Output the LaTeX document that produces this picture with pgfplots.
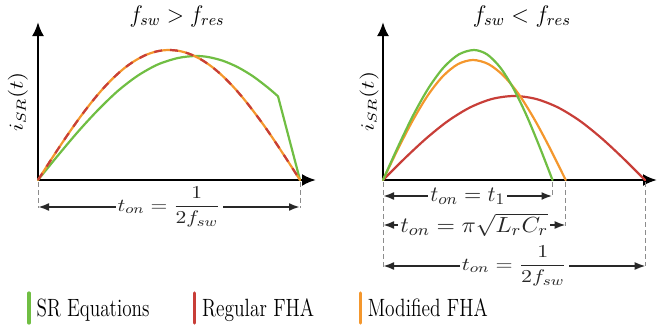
\documentclass[border=0pt]{standalone}
\usepackage{graphicx}
\usepackage{pgfplots}
\pgfplotsset{compat=1.18}
\usetikzlibrary{arrows.meta}
\definecolor{cgreen}{RGB}{112,190,67}
\definecolor{cred}{RGB}{200,62,56}
\definecolor{corange}{RGB}{244,151,45}
\definecolor{cdim}{RGB}{40,40,40}
\definecolor{cdash}{RGB}{140,140,140}
\newcommand\mfont{\fontsize{11}{13}\selectfont}
\newcommand\tifont{\fontsize{12}{14}\selectfont}
\newcommand\lfont{\fontsize{12.5}{15}\selectfont}
\pgfplotsset{
  schem/.style={x=0.5pt, y=0.5pt, axis lines=left, ticks=none,
    xmin=0, ymin=0, ymax=158, clip=false, anchor=south west,
    axis line style={line width=1.25pt},
    x axis line style={-{Latex[length=7pt,width=6pt]}},
    y axis line style={-{Latex[length=7pt,width=6pt]}},
    title style={anchor=center, yshift=-3pt, font=\tifont},
    ylabel style={anchor=center, font=\tifont},
  },
  curve/.style={line width=1.1pt, line join=round, line cap=round, forget plot},
  vdash/.style={cdash, line width=0.5pt, dash pattern=on 2.5pt off 1.5pt, forget plot},
  legend image code/.code={\draw[#1, line width=1.6pt, line cap=round] (0pt,-7pt) -- (0pt,8pt);},
}
\tikzset{dim/.style={cdim, line width=1pt, {Latex[length=5.5pt,width=4pt]}-{Latex[length=5.5pt,width=4pt]}},
  lab/.style={fill=white, inner sep=1pt, font=\mfont}}
\begin{document}
\begin{tikzpicture}
\useasboundingbox (0,0) rectangle (329pt,164pt);
% ---------------- left panel ----------------
\begin{axis}[schem, xmax=278, at={(19pt,74pt)},
  title={\resizebox{47.5pt}{\height}{$f_{sw} > f_{res}$}}, title style={at={(rel axis cs:0.5,1)}},
  ylabel={\resizebox*{30pt}{10pt}{$i_{SR}(t)$}}, ylabel style={at={(rel axis cs:-0.072,0.494)}},
  legend columns=3,
  legend style={at={(axis cs:-11,-128)}, anchor=west, draw=none, fill=none,
    inner sep=0pt, font=\lfont, /tikz/every even column/.append style={column sep=0pt}},
]
\addlegendimage{cgreen}\addlegendentry{\makebox[77.2pt][l]{\hspace{1pt}\resizebox{56.5pt}{\height}{SR Equations}}}
\addlegendimage{cred}\addlegendentry{\makebox[77.2pt][l]{\hspace{1pt}\resizebox{56pt}{\height}{Regular FHA}}}
\addlegendimage{corange}\addlegendentry{\makebox[77.2pt][l]{\hspace{1pt}\resizebox{60pt}{\height}{Modified FHA}}}
\addplot[curve, cgreen, smooth] coordinates {(0,0) (20,24.6) (40,48.3) (60,70.0) (80,89.2) (100,104.5) (120,115.6) (140,122.0) (157,124) (170,123.0) (185,119.2) (200,112.7) (215,103.7) (230,92.3) (240,83.7)};
\addplot[curve, cgreen] coordinates {(240,83.7) (262,0)};
\addplot[curve, corange, smooth] coordinates {(0,0) (10.9,17.0) (21.8,33.6) (32.8,49.8) (43.7,65.0) (54.6,79.1) (65.5,91.9) (76.4,103.1) (87.3,112.6) (98.3,120.1) (109.2,125.6) (120.1,128.9) (131,130) (141.9,128.9) (152.8,125.6) (163.8,120.1) (174.7,112.6) (185.6,103.1) (196.5,91.9) (207.4,79.1) (218.3,65.0) (229.3,49.8) (240.2,33.6) (251.1,17.0) (262,0)};
\addplot[curve, cred, smooth, line cap=butt, dash pattern=on 4pt off 4pt] coordinates {(0,0) (10.9,17.0) (21.8,33.6) (32.8,49.8) (43.7,65.0) (54.6,79.1) (65.5,91.9) (76.4,103.1) (87.3,112.6) (98.3,120.1) (109.2,125.6) (120.1,128.9) (131,130) (141.9,128.9) (152.8,125.6) (163.8,120.1) (174.7,112.6) (185.6,103.1) (196.5,91.9) (207.4,79.1) (218.3,65.0) (229.3,49.8) (240.2,33.6) (251.1,17.0) (262,0)};
\addplot[vdash] coordinates {(0,-2) (0,-28)};
\addplot[vdash] coordinates {(262,-2) (262,-28)};
\draw[dim] (axis cs:0,-27) -- node[lab] {\resizebox*{51.5pt}{20pt}{$t_{on} = \displaystyle\frac{1}{2f_{sw}}$}} (axis cs:262,-27);
\end{axis}
% ---------------- right panel ----------------
\begin{axis}[schem, xmax=274, at={(191.5pt,74pt)},
  title={\resizebox{49pt}{\height}{$f_{sw} < f_{res}$}}, title style={at={(rel axis cs:0.507,1)}},
  ylabel={\resizebox*{30pt}{9.5pt}{$i_{SR}(t)$}}, ylabel style={at={(rel axis cs:-0.051,0.496)}},
]
\addplot[curve, cred, smooth] coordinates {(0,0) (21.8,21.7) (43.7,42.0) (65.5,59.4) (87.3,72.7) (109.2,81.1) (131,84) (152.8,81.1) (174.7,72.7) (196.5,59.4) (218.3,42.0) (240.2,21.7) (262,0)};
\addplot[curve, corange, smooth] coordinates {(0,0) (15,31.1) (30,60) (45,84.9) (60,103.9) (75,115.9) (90,120) (105.45,115.9) (120.9,103.9) (136.35,84.9) (151.8,60) (167.25,31.1) (182.7,0)};
\addplot[curve, cgreen, smooth] coordinates {(0,0) (15.17,33.6) (30.33,65) (45.5,91.9) (60.67,112.6) (75.83,125.6) (91,130) (104.08,125.6) (117.17,112.6) (130.25,91.9) (143.33,65) (156.42,33.6) (169.5,0)};
\addplot[vdash] coordinates {(0,-2) (0,-88)};
\addplot[vdash] coordinates {(169.5,-2) (169.5,-16)};
\addplot[vdash] coordinates {(182.7,-2) (182.7,-46)};
\addplot[vdash] coordinates {(262.7,-2) (262.7,-86)};
\draw[dim] (axis cs:0,-16) -- node[lab] {\resizebox{37.5pt}{\height}{$t_{on} = t_1$}} (axis cs:169.5,-16);
\draw[dim] (axis cs:0,-45) -- node[lab] {\resizebox{74pt}{\height}{$t_{on} = \pi\sqrt{L_r C_r}$}} (axis cs:182.7,-45);
\draw[dim] (axis cs:0,-86) -- node[lab] {\resizebox*{52.5pt}{20pt}{$t_{on} = \displaystyle\frac{1}{2f_{sw}}$}} (axis cs:262.7,-86);
\end{axis}
\end{tikzpicture}
\end{document}
